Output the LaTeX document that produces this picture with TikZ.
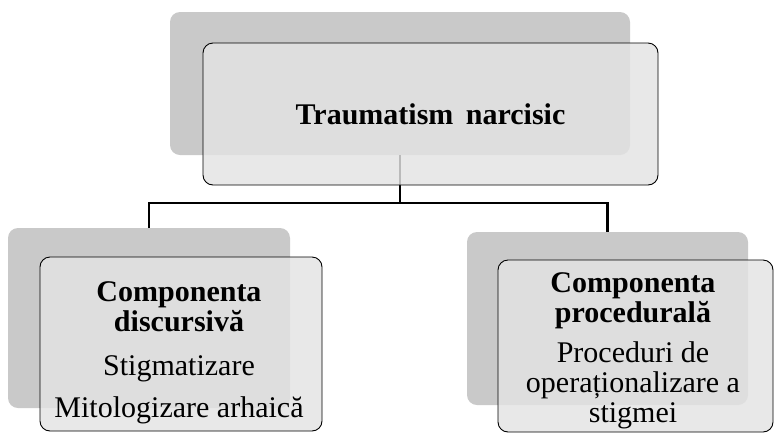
\documentclass[tikz,border=0pt]{standalone}
\usepackage{fontspec}
\setmainfont{Liberation Serif}
\usetikzlibrary{positioning}

\begin{document}
\begin{tikzpicture}[x=1pt,y=-1pt,
		backbox/.style={rectangle,rounded corners=10pt,fill=black!21,inner sep=0pt},
		frontbox/.style={rectangle,rounded corners=10pt,draw=black,line width=0.9pt,fill=black!11,fill opacity=0.82,text opacity=1,inner sep=0pt,align=center,font=\fontsize{30}{31}\selectfont},
		boxtext/.style={inner sep=0pt,align=center,font=\fontsize{30}{30}\selectfont},
		link/.style={draw=black,line width=2.6pt}]
		\useasboundingbox (0,0) rectangle (774,432);
		
		%back boxes
		\node[backbox,minimum width=460pt,minimum height=143pt] (topback) at (400,83.5) {};
		\node[backbox,minimum width=282pt,minimum height=180pt] (leftback) at (149,318) {};
		\node[backbox,minimum width=281pt,minimum height=173pt] (rightback) at (607.5,318.5) {};
		
		%connectors
		\coordinate (split) at (400,203);
		\draw[link] (topback.south) -- (split);
		\draw[link] (split) -| (leftback.north);
		\draw[link] (split) -| (rightback.north);
		
		%front boxes
		\node[frontbox,minimum width=455pt,minimum height=142pt] (top) at (430.5,114) {\textbf{Traumatism\, narcisic}};
		\node[frontbox,minimum width=282pt,minimum height=174pt] (left) at (181,344) {};
		\node[frontbox,minimum width=275pt,minimum height=172pt] (right) at (635.5,346) {};
		
		%texts
		\node[boxtext] (lefttext) at (179,353) {\textbf{Componenta}\\ \textbf{discursivă}\\[14pt] Stigmatizare\\[12pt] Mitologizare arhaică};
		\node[boxtext] (righttext) at (633,351) {\textbf{Componenta}\\ \textbf{procedurală}\\[10pt] Proceduri de\\ operaționalizare a\\ stigmei};
\end{tikzpicture}
\end{document}
